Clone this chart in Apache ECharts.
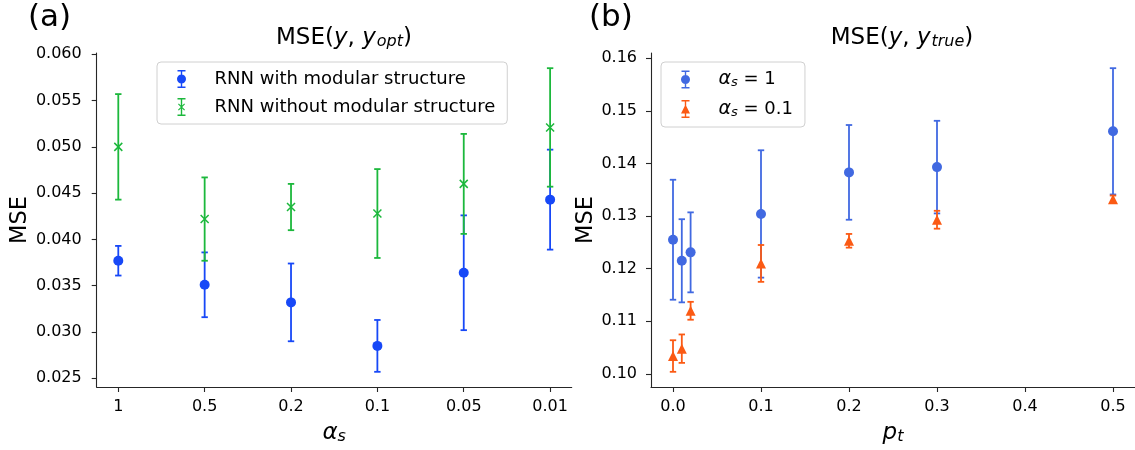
<!DOCTYPE html>
<html>
<head>
<meta charset="utf-8">
<script src="https://cdn.jsdelivr.net/npm/echarts@6/dist/echarts.min.js"></script>
<style>
  html, body { margin: 0; padding: 0; background: #fff; }
  #chart { width: 1135px; height: 450px; }
</style>
</head>
<body>
<div id="chart"></div>
<script>
// Panel (a): error in MSE(y, y_opt) against alpha_s
const alphaLabels = ['1', '0.5', '0.2', '0.1', '0.05', '0.01'];
const modMean   = [0.0377, 0.0351, 0.0332, 0.0285, 0.0364, 0.0443];
const modErr    = [0.0016, 0.0035, 0.0042, 0.0028, 0.0062, 0.0054];
const noModMean = [0.0500, 0.0422, 0.0435, 0.0428, 0.0460, 0.0521];
const noModErr  = [0.0057, 0.0045, 0.0025, 0.0048, 0.0054, 0.0064];

// Panel (b): error in MSE(y, y_true) against p_t
const ptValues  = [0, 0.01, 0.02, 0.1, 0.2, 0.3, 0.5];
const a1Mean    = [0.1255, 0.1215, 0.1231, 0.1304, 0.1383, 0.1393, 0.1461];
const a1Err     = [0.0114, 0.0079, 0.0076, 0.0121, 0.0090, 0.0088, 0.0120];
const a01Mean   = [0.1034, 0.1048, 0.1120, 0.1210, 0.1253, 0.1293, 0.1332];
const a01Err    = [0.0030, 0.0027, 0.0017, 0.0035, 0.0013, 0.0017, 0.0007];

const leftTicks  = [0.025, 0.030, 0.035, 0.040, 0.045, 0.050, 0.055, 0.060];
const rightTicks = [0.10, 0.11, 0.12, 0.13, 0.14, 0.15, 0.16];
const ptTicks    = [0, 0.1, 0.2, 0.3, 0.4, 0.5];

const NAME_MOD = 'RNN with modular structure';
const NAME_NOMOD = 'RNN without modular structure';
const NAME_A1 = 'alpha1';
const NAME_A01 = 'alpha01';

const C_BLUE = '#1748f7';
const C_GREEN = '#1cb83c';
const C_ROYAL = '#4169e1';
const C_ORANGE = '#fb5a14';
const FONT = 'DejaVu Sans';

// y-range padded by 5% of the span of the error bars
function paddedRange(means, errs) {
  let lo = Infinity, hi = -Infinity;
  means.forEach((m, i) => { lo = Math.min(lo, m - errs[i]); hi = Math.max(hi, m + errs[i]); });
  const pad = (hi - lo) * 0.05;
  return [lo - pad, hi + pad];
}
const leftRange = paddedRange(modMean.concat(noModMean), modErr.concat(noModErr));
const rightRange = paddedRange(a1Mean.concat(a01Mean), a1Err.concat(a01Err));

function errData(xs, means, errs) {
  return means.map((m, i) => [xs[i], m - errs[i], m + errs[i]]);
}
function pointData(xs, means) {
  return means.map((m, i) => [xs[i], m]);
}
const alphaIdx = alphaLabels.map((_, i) => i);

function errorBarSeries(name, data, color, gi) {
  return {
    type: 'custom',
    name: name + ' err',
    xAxisIndex: gi, yAxisIndex: gi,
    data: data,
    encode: { x: 0, y: [1, 2] },
    z: 2,
    silent: true,
    renderItem: function (params, api) {
      const x = api.value(0);
      const lo = api.coord([x, api.value(1)]);
      const hi = api.coord([x, api.value(2)]);
      const cap = 3.2;
      const style = { stroke: color, lineWidth: 1.8, fill: null };
      return {
        type: 'group',
        children: [
          { type: 'line', shape: { x1: lo[0], y1: lo[1], x2: hi[0], y2: hi[1] }, style: style },
          { type: 'line', shape: { x1: lo[0] - cap, y1: lo[1], x2: lo[0] + cap, y2: lo[1] }, style: style },
          { type: 'line', shape: { x1: hi[0] - cap, y1: hi[1], x2: hi[0] + cap, y2: hi[1] }, style: style }
        ]
      };
    }
  };
}

const axisLineStyle = { show: true, onZero: false, lineStyle: { color: '#262626', width: 1.1 } };
const tickStyle = { show: true, length: 5, lineStyle: { color: '#262626', width: 1.1 } };
const labelBase = { color: '#000', fontFamily: FONT, fontSize: 16 };

const mathRich = {
  n: { fontFamily: FONT, fontSize: 23, fontWeight: 'normal', color: '#000', lineHeight: 28, verticalAlign: 'bottom' },
  i: { fontFamily: FONT, fontSize: 23, fontWeight: 'normal', fontStyle: 'italic', color: '#000', lineHeight: 28, verticalAlign: 'bottom' },
  sub: { fontFamily: FONT, fontSize: 16, fontWeight: 'normal', fontStyle: 'italic', color: '#000', lineHeight: 17, verticalAlign: 'bottom', padding: [0, 0, 0, 1] }
};
const axisNameRich = {
  i: { fontFamily: FONT, fontSize: 23, fontStyle: 'italic', color: '#000', lineHeight: 28, verticalAlign: 'bottom' },
  sub: { fontFamily: FONT, fontSize: 16, fontStyle: 'italic', color: '#000', lineHeight: 18, verticalAlign: 'bottom' }
};
const legendRich = {
  n: { fontFamily: FONT, fontSize: 18, color: '#000', lineHeight: 20 },
  i: { fontFamily: FONT, fontSize: 19, fontStyle: 'italic', color: '#000', lineHeight: 20 },
  sub: { fontFamily: FONT, fontSize: 13, fontStyle: 'italic', color: '#000', lineHeight: 13, verticalAlign: 'bottom', padding: [6, 0, 0, 0] }
};

// legend glyphs: error bar with caps plus the marker
const ICON_CIRCLE = 'path://M2,0H10V1.4H2Z M5.3,1.4H6.7V16.6H5.3Z M2,16.6H10V18H2Z M6,4.5A4.5,4.5 0 1 1 5.99,4.5Z';
const ICON_X = 'path://M2,0H10V1.4H2Z M5.3,1.4H6.7V16.6H5.3Z M2,16.6H10V18H2Z M2.5,6.3L3.3,5.5L9.5,11.7L8.7,12.5Z M8.7,5.5L9.5,6.3L3.3,12.5L2.5,11.7Z';
const ICON_TRI = 'path://M2,0H10V1.4H2Z M5.3,1.4H6.7V16.6H5.3Z M2,16.6H10V18H2Z M1.5,13.5L6,4.5L10.5,13.5Z';

const legendBase = {
  orient: 'vertical', top: 62,
  itemWidth: 12, itemHeight: 18, itemGap: 10,
  padding: [8, 12, 8, 20],
  borderColor: '#d0d0d0', borderWidth: 1, borderRadius: 4, backgroundColor: '#fff',
  selectedMode: false
};

const option = {
  animation: false,
  backgroundColor: '#fff',
  title: [
    { text: '(a)', left: 23, top: -3, textStyle: { fontFamily: FONT, fontSize: 31, fontWeight: 'normal', color: '#000' } },
    { text: '(b)', left: 584, top: -3, textStyle: { fontFamily: FONT, fontSize: 31, fontWeight: 'normal', color: '#000' } },
    { text: '{n|MSE(}{i|y}{n|, }{i|y}{sub|opt}{n|)}', left: 339, top: 17, textAlign: 'center',
      textStyle: { fontWeight: 'normal', rich: mathRich } },
    { text: '{n|MSE(}{i|y}{n|, }{i|y}{sub|true}{n|)}', left: 897, top: 17, textAlign: 'center',
      textStyle: { fontWeight: 'normal', rich: mathRich } }
  ],
  legend: [
    Object.assign({}, legendBase, {
      left: 157,
      data: [
        { name: NAME_MOD, icon: ICON_CIRCLE, itemStyle: { color: C_BLUE, borderWidth: 0 } },
        { name: NAME_NOMOD, icon: ICON_X, itemStyle: { color: C_GREEN, borderWidth: 0 } }
      ],
      textStyle: { fontFamily: FONT, fontSize: 18, color: '#000', padding: [0, 0, 0, 22] }
    }),
    Object.assign({}, legendBase, {
      left: 661,
      data: [
        { name: NAME_A1, icon: ICON_CIRCLE, itemStyle: { color: C_ROYAL, borderWidth: 0 } },
        { name: NAME_A01, icon: ICON_TRI, itemStyle: { color: C_ORANGE, borderWidth: 0 } }
      ],
      formatter: function (name) {
        return name === NAME_A1 ? '{i|α}{sub|s}{n| = 1}' : '{i|α}{sub|s}{n| = 0.1}';
      },
      textStyle: { fontFamily: FONT, fontSize: 18, color: '#000', padding: [0, 0, 0, 22], rich: legendRich }
    })
  ],
  grid: [
    { left: 96.7, top: 53, width: 475, height: 337.5 },
    { left: 651, top: 53, width: 486, height: 337 }
  ],
  xAxis: [
    {
      gridIndex: 0, type: 'value', min: -0.25, max: alphaLabels.length - 0.75,
      splitLine: { show: false },
      axisLine: axisLineStyle,
      axisTick: Object.assign({ customValues: alphaIdx }, tickStyle),
      axisLabel: Object.assign({ customValues: alphaIdx, margin: 12,
        formatter: v => alphaLabels[Math.round(v)] }, labelBase),
      name: '{i|α}{sub|s}', nameLocation: 'middle', nameGap: 30,
      nameTextStyle: { rich: axisNameRich }
    },
    {
      gridIndex: 1, type: 'value', min: -0.025, max: 0.525,
      splitLine: { show: false },
      axisLine: axisLineStyle,
      axisTick: Object.assign({ customValues: ptTicks }, tickStyle),
      axisLabel: Object.assign({ customValues: ptTicks, margin: 12,
        formatter: v => v.toFixed(1) }, labelBase),
      name: '{i|p}{sub|t}', nameLocation: 'middle', nameGap: 30,
      nameTextStyle: { rich: axisNameRich }
    }
  ],
  yAxis: [
    {
      gridIndex: 0, type: 'value', min: leftRange[0], max: leftRange[1],
      splitLine: { show: false },
      axisLine: axisLineStyle,
      axisTick: Object.assign({ customValues: leftTicks }, tickStyle),
      axisLabel: Object.assign({ customValues: leftTicks, margin: 15,
        formatter: v => v.toFixed(3) }, labelBase),
      name: 'MSE', nameLocation: 'middle', nameGap: 57, nameRotate: 90,
      nameTextStyle: { fontFamily: FONT, fontSize: 22.5, color: '#000' }
    },
    {
      gridIndex: 1, type: 'value', min: rightRange[0], max: rightRange[1],
      splitLine: { show: false },
      axisLine: axisLineStyle,
      axisTick: Object.assign({ customValues: rightTicks }, tickStyle),
      axisLabel: Object.assign({ customValues: rightTicks, margin: 14,
        formatter: v => v.toFixed(2) }, labelBase),
      name: 'MSE', nameLocation: 'middle', nameGap: 47, nameRotate: 90,
      nameTextStyle: { fontFamily: FONT, fontSize: 22.5, color: '#000' }
    }
  ],
  series: [
    errorBarSeries(NAME_MOD, errData(alphaIdx, modMean, modErr), C_BLUE, 0),
    {
      type: 'scatter', name: NAME_MOD, xAxisIndex: 0, yAxisIndex: 0,
      data: pointData(alphaIdx, modMean), symbol: 'circle', symbolSize: 10, z: 3,
      itemStyle: { color: C_BLUE, opacity: 1 }
    },
    Object.assign(errorBarSeries(NAME_NOMOD, errData(alphaIdx, noModMean, noModErr), C_GREEN, 0), { z: 4 }),
    {
      type: 'scatter', name: NAME_NOMOD, xAxisIndex: 0, yAxisIndex: 0,
      data: pointData(alphaIdx, noModMean), symbol: 'path://M0,0L10,10M10,0L0,10', symbolSize: 8, z: 5,
      itemStyle: { color: 'none', borderColor: C_GREEN, borderWidth: 1.5, opacity: 1 }
    },
    errorBarSeries(NAME_A1, errData(ptValues, a1Mean, a1Err), C_ROYAL, 1),
    {
      type: 'scatter', name: NAME_A1, xAxisIndex: 1, yAxisIndex: 1,
      data: pointData(ptValues, a1Mean), symbol: 'circle', symbolSize: 10, z: 3,
      itemStyle: { color: C_ROYAL, opacity: 1 }
    },
    Object.assign(errorBarSeries(NAME_A01, errData(ptValues, a01Mean, a01Err), C_ORANGE, 1), { z: 4 }),
    {
      type: 'scatter', name: NAME_A01, xAxisIndex: 1, yAxisIndex: 1,
      data: pointData(ptValues, a01Mean), symbol: 'triangle', symbolSize: 10, z: 5,
      itemStyle: { color: C_ORANGE, opacity: 1 }
    }
  ]
};

const chart = echarts.init(document.getElementById('chart'), null, { renderer: 'canvas' });
chart.setOption(option);
</script>
</body>
</html>
